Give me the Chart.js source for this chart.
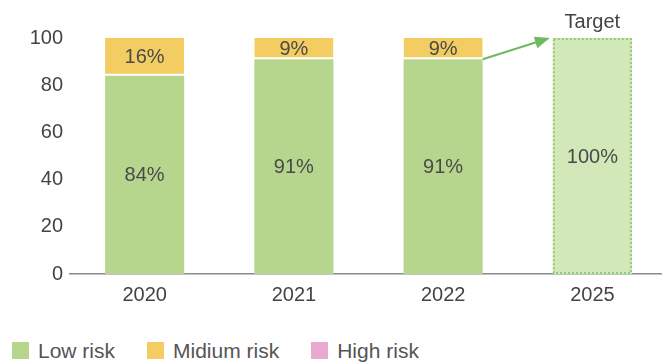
<!DOCTYPE html>
<html>
<head>
<meta charset="utf-8">
<script src="https://cdn.jsdelivr.net/npm/chart.js@4.4.1/dist/chart.umd.min.js"></script>
<style>
  html, body { margin: 0; padding: 0; background: #fff; overflow: hidden; }
  #wrap { position: relative; width: 667px; height: 330px; }
  #legend { display: flex; align-items: center; height: 33px; margin-top: 4px; padding-left: 12px;
            font-family: "Liberation Sans", Arial, sans-serif; font-size: 21px; color: #555; }
  #legend .item { display: flex; align-items: center; margin-right: 32px; }
  #legend .box { width: 17px; height: 17px; margin-right: 9px; }
</style>
</head>
<body>
<div id="wrap"><canvas id="riskChart"></canvas></div>
<div id="legend"></div>
<script>
// --- DATA ---
const years = ['2020', '2021', '2022', '2025'];
const lowRisk = [84, 91, 91, null];
const mediumRisk = [16, 9, 9, null];
const highRisk = [0, 0, 0, null];
const target = [null, null, null, 100];
const yTicks = [0, 20, 40, 60, 80, 100];

const GREEN = '#b6d68e';
const YELLOW = '#f3cd62';
const PINK = '#e9aad2';
const TARGET_FILL = '#d3e8b9';
const TARGET_EDGE = '#8fcd76';
const ARROW = '#6dbb5d';
const FONT = '"Liberation Sans", Arial, sans-serif';

// labels inside segments + target box, arrow
const overlayPlugin = {
    id: 'overlay',
    afterDatasetsDraw(chart) {
        const { ctx, scales: { x, y } } = chart;
        ctx.save();
        ctx.font = '20px ' + FONT;
        ctx.fillStyle = '#4a4a4a';
        ctx.textAlign = 'center';
        ctx.textBaseline = 'middle';
        [0, 1, 3].forEach(di => {
            const meta = chart.getDatasetMeta(di);
            meta.data.forEach((bar, i) => {
                const v = chart.data.datasets[di].data[i];
                if (!v) return;
                const { base } = bar.getProps(['base']);
                const cy = (bar.y + base) / 2;
                ctx.fillText(v + '%', bar.x, cy + 1);
            });
        });

        // dotted outline of the target bar
        const tb = chart.getDatasetMeta(3).data[3];
        const w = tb.width;
        ctx.setLineDash([2, 2]);
        ctx.strokeStyle = TARGET_EDGE;
        ctx.lineWidth = 2;
        ctx.strokeRect(tb.x - w / 2 + 1, tb.y + 1, w - 2, tb.base - tb.y - 2);
        ctx.setLineDash([]);

        ctx.fillStyle = '#444';
        ctx.textBaseline = 'alphabetic';
        ctx.fillText('Target', tb.x, tb.y - 10);

        // arrow from 2022 to target
        const b22 = chart.getDatasetMeta(0).data[2];
        const x0 = b22.x + b22.width / 2, y0 = y.getPixelForValue(lowRisk[2]);
        const x1 = tb.x - w / 2 - 3, y1 = y.getPixelForValue(target[3]);
        const ang = Math.atan2(y1 - y0, x1 - x0);
        ctx.strokeStyle = ARROW;
        ctx.fillStyle = ARROW;
        ctx.lineWidth = 2;
        ctx.beginPath();
        ctx.moveTo(x0, y0);
        ctx.lineTo(x1 - 10 * Math.cos(ang), y1 - 10 * Math.sin(ang));
        ctx.stroke();
        ctx.beginPath();
        ctx.moveTo(x1, y1);
        ctx.lineTo(x1 - 15 * Math.cos(ang) + 6 * Math.sin(ang), y1 - 15 * Math.sin(ang) - 6 * Math.cos(ang));
        ctx.lineTo(x1 - 15 * Math.cos(ang) - 6 * Math.sin(ang), y1 - 15 * Math.sin(ang) + 6 * Math.cos(ang));
        ctx.closePath();
        ctx.fill();
        ctx.restore();
    }
};

const el = document.getElementById('riskChart');
const riskChart = new Chart(el.getContext('2d'), {
    type: 'bar',
    data: {
        labels: years,
        datasets: [
            { label: 'Low risk', data: lowRisk, backgroundColor: GREEN, borderWidth: 0 },
            { label: 'Midium risk', data: mediumRisk, backgroundColor: YELLOW, borderColor: '#fff', borderWidth: { bottom: 2 }, borderSkipped: false },
            { label: 'High risk', data: highRisk, backgroundColor: PINK, borderWidth: 0 },
            { label: 'Target', data: target, backgroundColor: TARGET_FILL, borderWidth: 0 }
        ]
    },
    options: {
        responsive: true,
        maintainAspectRatio: false,
        animation: false,
        layout: { padding: { top: 38, right: 0, left: 0, bottom: 14 } },
        datasets: { bar: { categoryPercentage: 1, barPercentage: 0.53, stack: 'risk' } },
        plugins: { legend: { display: false }, tooltip: { enabled: false } },
        scales: {
            x: {
                stacked: true,
                grid: { display: false, drawTicks: false },
                border: { display: true, color: '#8a8a8a', width: 1.5 },
                ticks: { color: '#444', font: { family: FONT, size: 20 }, padding: 9 }
            },
            y: {
                stacked: true,
                min: 0, max: 100,
                afterBuildTicks: (axis) => { axis.ticks = yTicks.map(v => ({ value: v })); },
                afterFit: (axis) => { axis.width = 70; },
                grid: { display: false, drawTicks: false },
                border: { display: false },
                ticks: { color: '#444', font: { family: FONT, size: 20 }, padding: 7 }
            }
        }
    },
    plugins: [overlayPlugin]
});

// legend (first three series)
const legendEl = document.getElementById('legend');
[['Low risk', GREEN], ['Midium risk', YELLOW], ['High risk', PINK]].forEach(([name, color]) => {
    const item = document.createElement('div');
    item.className = 'item';
    item.innerHTML = '<span class="box" style="background:' + color + '"></span>' + name;
    legendEl.appendChild(item);
});
</script>
</body>
</html>
